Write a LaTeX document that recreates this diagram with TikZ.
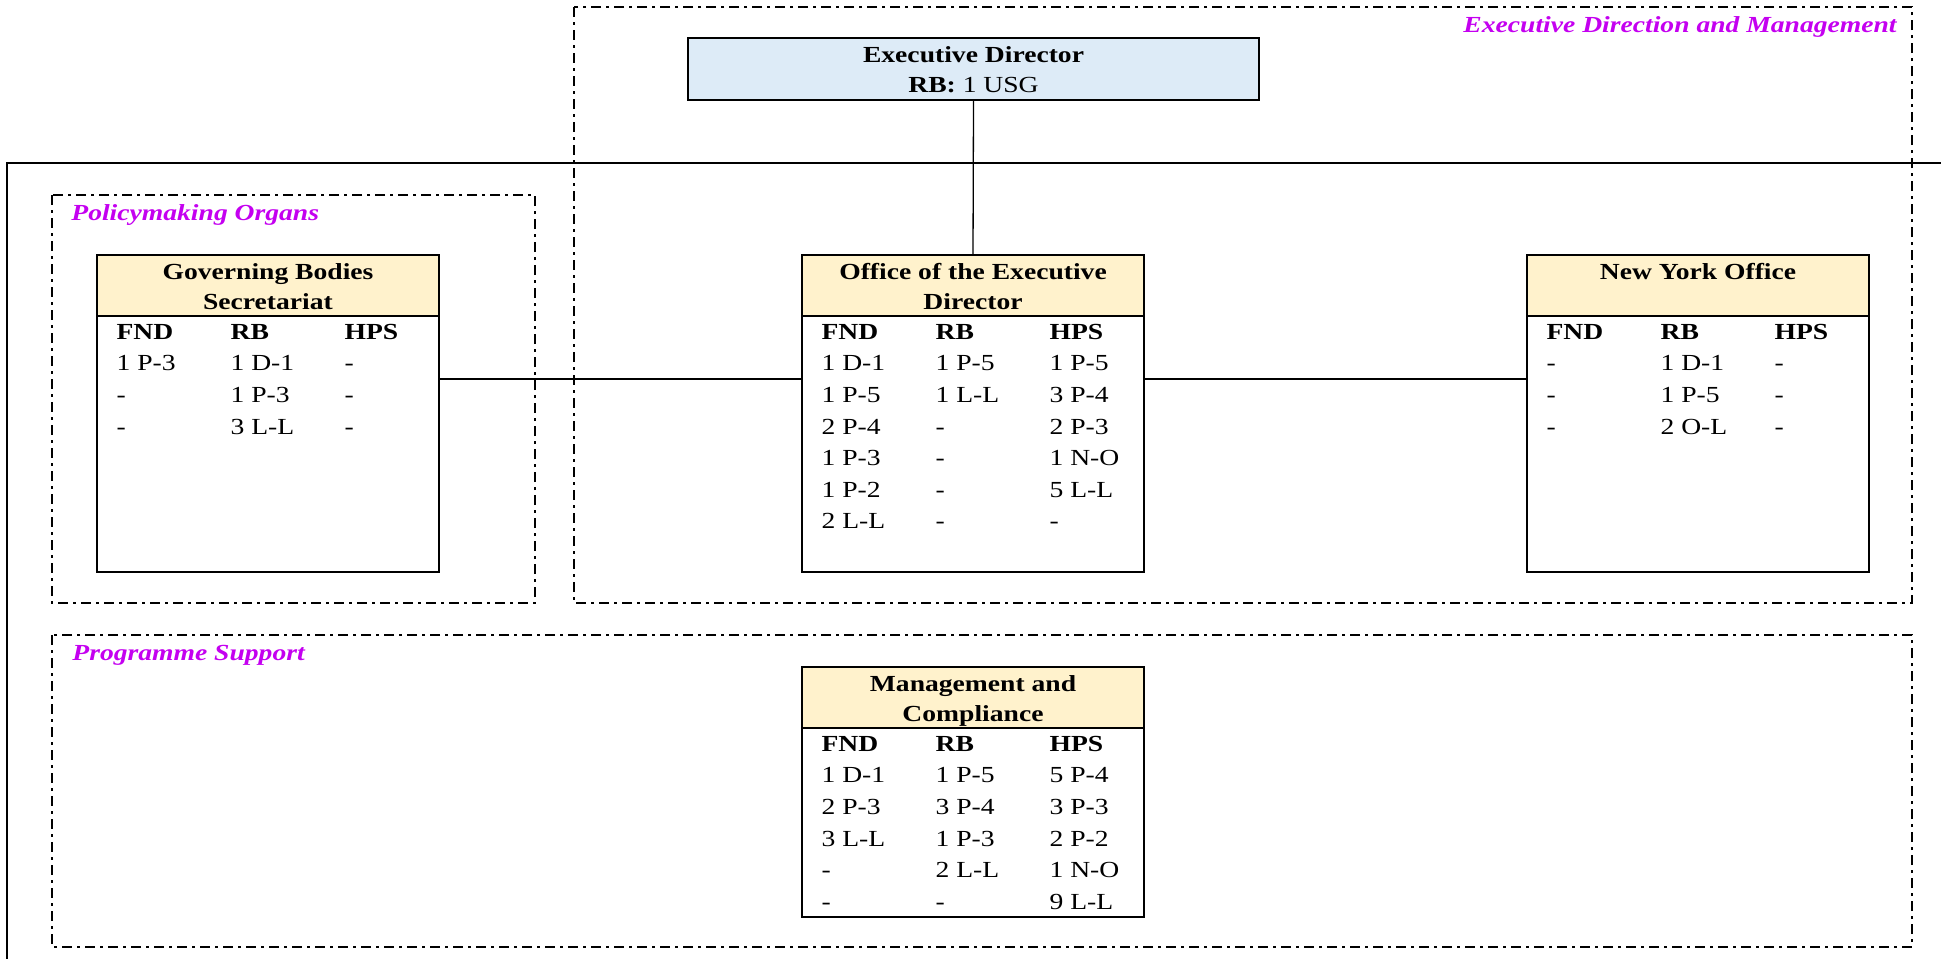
\documentclass[tikz,border=0pt]{standalone}
\usepackage{fontspec}
\setmainfont{Liberation Serif}[FakeStretch=1.2]
\usetikzlibrary{calc}
\definecolor{headyellow}{HTML}{FFF2CC}
\definecolor{edblue}{HTML}{DDEBF7}
\definecolor{grouppurple}{HTML}{C400F0}
\begin{document}
\begin{tikzpicture}[x=0.5pt, y=-0.5pt, font=\fontsize{11.5}{15}\selectfont,
  group/.style={draw, line width=0.65pt, dash pattern=on 5pt off 2.5pt on 1.5pt off 2.5pt},
  grouplabel/.style={font=\fontsize{11.5}{15}\selectfont\bfseries\itshape, text=grouppurple, inner sep=0pt},
  unit/.style={draw, line width=0.8pt, minimum width=171pt, inner sep=0pt},
  unithead/.style={draw, line width=0.8pt, fill=headyellow, minimum width=171pt, minimum height=30.5pt, inner sep=0pt, anchor=north},
  unittitle/.style={font=\fontsize{11.5}{15}\selectfont\bfseries, inner sep=0pt, anchor=base},
  posts/.style={font=\fontsize{11.5}{15.8}\selectfont, inner sep=0pt, anchor=base west},
  link/.style={line width=0.65pt}]
  \useasboundingbox (0,0) rectangle (1941,959);
  % groups
  \draw[group] (574,7) rectangle (1912,603);
  \node[grouplabel, anchor=base east] (edm-label) at (1897,32) {Executive Direction and Management};
  \draw[group] (52,195) rectangle (535,603);
  \node[grouplabel, anchor=base west] (po-label) at (71,220) {Policymaking Organs};
  \draw[group] (52,635) rectangle (1912,947);
  \node[grouplabel, anchor=base west] (ps-label) at (72,660) {Programme Support};
  % frame
  \draw[line width=1.2pt] (1941,163) -- (7,163) -- (7,959);
  % executive director
  \node[draw, line width=0.8pt, fill=edblue, minimum width=285.5pt, minimum height=31pt, inner sep=0pt] (ed) at (973.5,69) {};
  \node[unittitle] (ed-title) at ($(ed.north)+(0,25)$) {\begin{tabular}[t]{@{}c@{}}Executive Director\\RB: \mdseries 1 USG\end{tabular}};
  % governing bodies secretariat
  \node[unit, minimum height=158.5pt] (gbs) at (268,413.5) {};
  \node[unithead] (gbs-head) at (gbs.north) {};
  \node[unittitle] (gbs-title) at ($(gbs.north)+(0,25)$) {\begin{tabular}[t]{@{}c@{}}Governing Bodies\\Secretariat\end{tabular}};
  \node[posts] (gbs-posts) at ($(gbs.north west)+(20,85)$) {\begin{tabular}[t]{@{}p{57pt}@{}p{57pt}@{}l@{}}
    \textbf{FND} & \textbf{RB} & \textbf{HPS}\\
    1 P-3 & 1 D-1 & -\\
    - & 1 P-3 & -\\
    - & 3 L-L & -
  \end{tabular}};
  % office of the executive director
  \node[unit, minimum height=158.5pt] (oed) at (973,413.5) {};
  \node[unithead] (oed-head) at (oed.north) {};
  \node[unittitle] (oed-title) at ($(oed.north)+(0,25)$) {\begin{tabular}[t]{@{}c@{}}Office of the Executive\\Director\end{tabular}};
  \node[posts] (oed-posts) at ($(oed.north west)+(20,85)$) {\begin{tabular}[t]{@{}p{57pt}@{}p{57pt}@{}l@{}}
    \textbf{FND} & \textbf{RB} & \textbf{HPS}\\
    1 D-1 & 1 P-5 & 1 P-5\\
    1 P-5 & 1 L-L & 3 P-4\\
    2 P-4 & - & 2 P-3\\
    1 P-3 & - & 1 N-O\\
    1 P-2 & - & 5 L-L\\
    2 L-L & - & -
  \end{tabular}};
  % new york office
  \node[unit, minimum height=158.5pt] (nyo) at (1698,413.5) {};
  \node[unithead] (nyo-head) at (nyo.north) {};
  \node[unittitle] (nyo-title) at ($(nyo.north)+(0,25)$) {New York Office};
  \node[posts] (nyo-posts) at ($(nyo.north west)+(20,85)$) {\begin{tabular}[t]{@{}p{57pt}@{}p{57pt}@{}l@{}}
    \textbf{FND} & \textbf{RB} & \textbf{HPS}\\
    - & 1 D-1 & -\\
    - & 1 P-5 & -\\
    - & 2 O-L & -
  \end{tabular}};
  % management and compliance
  \node[unit, minimum height=125pt] (mc) at (973,792) {};
  \node[unithead] (mc-head) at (mc.north) {};
  \node[unittitle] (mc-title) at ($(mc.north)+(0,25)$) {\begin{tabular}[t]{@{}c@{}}Management and\\Compliance\end{tabular}};
  \node[posts] (mc-posts) at ($(mc.north west)+(20,85)$) {\begin{tabular}[t]{@{}p{57pt}@{}p{57pt}@{}l@{}}
    \textbf{FND} & \textbf{RB} & \textbf{HPS}\\
    1 D-1 & 1 P-5 & 5 P-4\\
    2 P-3 & 3 P-4 & 3 P-3\\
    3 L-L & 1 P-3 & 2 P-2\\
    - & 2 L-L & 1 N-O\\
    - & - & 9 L-L
  \end{tabular}};
  % links
  \draw[link] (ed.south) -- (oed.north);
  \draw[link] ([yshift=17.25pt]gbs.east) -- ([yshift=17.25pt]oed.west);
  \draw[link] ([yshift=17.25pt]oed.east) -- ([yshift=17.25pt]nyo.west);
\end{tikzpicture}
\end{document}
